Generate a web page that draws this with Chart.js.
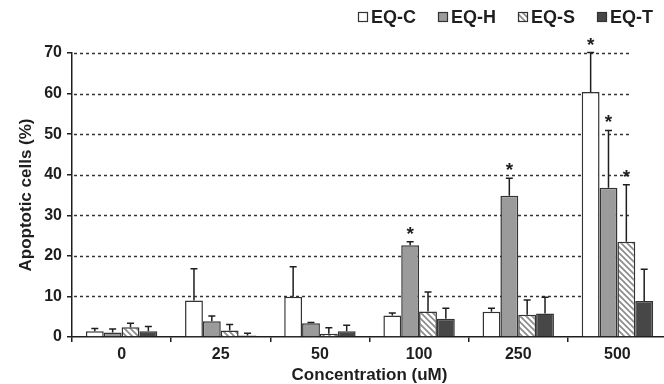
<!DOCTYPE html>
<html><head><meta charset="utf-8">
<script src="https://cdn.jsdelivr.net/npm/chart.js@4.4.0/dist/chart.umd.min.js"></script>
<style>html,body{margin:0;padding:0;background:#fff;overflow:hidden;width:664px;height:384px}
#wrap{position:relative;width:668px;height:384px}</style></head>
<body><div id="wrap"><canvas id="c"></canvas></div>
<script>
// ---- data ----
const categories = ['0', '25', '50', '100', '250', '500'];
const seriesNames = ['EQ-C', 'EQ-H', 'EQ-S', 'EQ-T'];
const eqC = [1.4, 9.0, 9.9, 5.3, 6.2, 60.4];
const eqH = [1.1, 3.9, 3.4, 22.6, 34.8, 36.8];
const eqS = [2.4, 1.6, 0.8, 6.3, 5.5, 23.5];
const eqT = [1.4, 0.4, 1.4, 4.5, 5.8, 8.9];
const errC = [0.7, 7.8, 7.4, 0.6, 0.9, 9.7];
const errH = [0.9, 1.3, 0.2, 0.9, 4.3, 14.1];
const errS = [1.0, 1.5, 1.5, 4.8, 3.6, 14.0];
const errT = [1.2, 0.5, 1.5, 2.6, 4.0, 7.8];
const sigC = [0, 0, 0, 0, 0, 1];
const sigH = [0, 0, 0, 1, 1, 1];
const sigS = [0, 0, 0, 0, 0, 1];
const sigT = [0, 0, 0, 0, 0, 0];
const yTicks = [0, 10, 20, 30, 40, 50, 60, 70];

// ---- style ----
const FONT = "'Liberation Sans', Arial, sans-serif";
const INK = '#1e1e1e';
const GRID_END_X = 630;
const LEGEND_RIGHT = 653, LEGEND_Y = 17;

function hatchPattern() {
  const p = document.createElement('canvas');
  p.width = 6; p.height = 6;
  const g = p.getContext('2d');
  g.fillStyle = '#ffffff'; g.fillRect(0, 0, 6, 6);
  g.strokeStyle = '#8c8c8c'; g.lineWidth = 1.7;
  g.beginPath();
  g.moveTo(-1, -1); g.lineTo(7, 7);
  g.moveTo(-1, 5); g.lineTo(1, 7);
  g.moveTo(5, -1); g.lineTo(7, 1);
  g.stroke();
  return document.createElement('canvas').getContext('2d').createPattern(p, 'repeat');
}

const fills = ['#ffffff', '#9b9b9b', hatchPattern(), '#474747'];
const values = [eqC, eqH, eqS, eqT];
const errs = [errC, errH, errS, errT];
const sigs = [sigC, sigH, sigS, sigT];

const gridPlugin = {
  id: 'dashGrid',
  beforeDatasetsDraw(chart) {
    const {ctx, chartArea, scales: {y}} = chart;
    ctx.save();
    ctx.strokeStyle = '#333'; ctx.lineWidth = 1.5; ctx.setLineDash([3, 3]);
    yTicks.forEach(v => {
      if (v === 0) return;
      const py = Math.round(y.getPixelForValue(v)) + 0.5;
      ctx.beginPath(); ctx.moveTo(chartArea.left + 2, py); ctx.lineTo(GRID_END_X, py); ctx.stroke();
    });
    ctx.restore();
  }
};

const errPlugin = {
  id: 'errBars',
  afterDatasetsDraw(chart) {
    const {ctx, scales: {y}} = chart;
    ctx.save();
    ctx.strokeStyle = INK; ctx.lineWidth = 1.5; ctx.fillStyle = INK;
    ctx.font = 'bold 19px ' + FONT; ctx.textAlign = 'center'; ctx.textBaseline = 'alphabetic';
    chart.data.datasets.forEach((ds, i) => {
      const meta = chart.getDatasetMeta(i);
      meta.data.forEach((bar, j) => {
        const top = y.getPixelForValue(ds.data[j] + errs[i][j]);
        ctx.beginPath();
        ctx.moveTo(bar.x, bar.y); ctx.lineTo(bar.x, top);
        ctx.moveTo(bar.x - 3.5, top); ctx.lineTo(bar.x + 3.5, top);
        ctx.stroke();
        if (sigs[i][j]) ctx.fillText('*', bar.x, top - 2);
      });
    });
    ctx.restore();
  }
};

const legendPlugin = {
  id: 'customLegend',
  afterDraw(chart) {
    const ctx = chart.ctx;
    ctx.save();
    ctx.font = 'bold 18px ' + FONT; ctx.textBaseline = 'middle'; ctx.textAlign = 'left';
    const box = 10, gapBox = 3, gapItem = 22;
    const widths = seriesNames.map(n => ctx.measureText(n).width);
    let total = 0;
    widths.forEach((w, i) => { total += box + gapBox + w + (i < widths.length - 1 ? gapItem : 0); });
    let x = LEGEND_RIGHT - total;
    chart.data.datasets.forEach((ds, i) => {
      ctx.fillStyle = ds.backgroundColor;
      ctx.fillRect(x, LEGEND_Y - box / 2, box, box);
      ctx.strokeStyle = '#333'; ctx.lineWidth = 1.2;
      ctx.strokeRect(x + 0.5, LEGEND_Y - box / 2 + 0.5, box - 1, box - 1);
      ctx.fillStyle = INK;
      ctx.fillText(ds.label, x + box + gapBox, LEGEND_Y + 1);
      x += box + gapBox + widths[i] + gapItem;
    });
    ctx.restore();
  }
};

new Chart(document.getElementById('c'), {
  type: 'bar',
  data: {
    labels: categories,
    datasets: seriesNames.map((n, i) => ({
      label: n,
      data: values[i],
      backgroundColor: fills[i],
      borderColor: '#333',
      borderWidth: 1.5,
      categoryPercentage: 0.72,
      barPercentage: 1.0
    }))
  },
  options: {
    responsive: true,
    maintainAspectRatio: false,
    animation: false,
    layout: {padding: {left: 0, top: 53, right: 1, bottom: 0}},
    plugins: {legend: {display: false}, tooltip: {enabled: false}},
    scales: {
      x: {
        grid: {display: true, drawOnChartArea: false, drawTicks: true, tickLength: 5, color: INK, lineWidth: 1.5, offset: true},
        border: {display: true, color: INK, width: 1.5},
        ticks: {font: {family: FONT, size: 16, weight: 'bold'}, color: INK, padding: 3, maxRotation: 0},
        title: {display: true, text: 'Concentration (uM)', color: INK,
          font: {family: FONT, size: 17, weight: 'bold', lineHeight: 1}, padding: {top: 0, bottom: 0}},
        afterFit: s => { s.height = 47; }
      },
      y: {
        min: 0, max: 70,
        afterBuildTicks: s => { s.ticks = yTicks.map(v => ({value: v})); },
        grid: {display: true, drawOnChartArea: false, drawTicks: true, tickLength: 5, color: INK, lineWidth: 1.5},
        border: {display: true, color: INK, width: 1.5},
        ticks: {font: {family: FONT, size: 16, weight: 'bold'}, color: INK, padding: 5},
        title: {display: true, text: 'Apoptotic cells (%)', color: INK,
          font: {family: FONT, size: 17, weight: 'bold', lineHeight: 1}, padding: {top: 18, bottom: 0}},
        afterFit: s => { s.width = 72; }
      }
    }
  },
  plugins: [gridPlugin, errPlugin, legendPlugin]
});
</script>
</body></html>
